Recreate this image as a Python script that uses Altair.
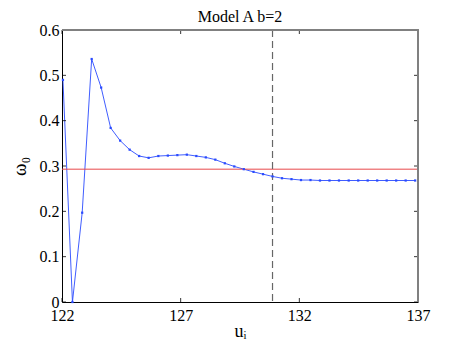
import altair as alt
import pandas as pd

u_vals = [122.04, 122.44, 122.85, 123.25, 123.65, 124.05, 124.45, 124.85, 125.25, 125.65,
          126.06, 126.46, 126.86, 127.26, 127.66, 128.06, 128.46, 128.86, 129.26, 129.66,
          130.07, 130.47, 130.87, 131.27, 131.67, 132.07, 132.47, 132.87, 133.27, 133.67,
          134.08, 134.48, 134.88, 135.28, 135.68, 136.08, 136.48, 136.88]
omega_vals = [0.490, 0.000, 0.197, 0.536, 0.473, 0.384, 0.356, 0.336, 0.322, 0.318,
              0.322, 0.323, 0.324, 0.325, 0.322, 0.319, 0.314, 0.306, 0.299, 0.293,
              0.287, 0.282, 0.277, 0.273, 0.271, 0.269, 0.269, 0.268, 0.268, 0.268,
              0.268, 0.268, 0.268, 0.268, 0.268, 0.268, 0.268, 0.268]
ref_level = [0.293]
vline_u = [130.87]
x_ticks = [122, 127, 132, 137]
y_ticks = [0, 0.1, 0.2, 0.3, 0.4, 0.5, 0.6]
title_text = ["Model A b=2"]

W, H = 356, 272
FONT = "Liberation Serif, Times New Roman, serif"
TL = 4

df = pd.DataFrame({"u": u_vals, "w": omega_vals})
xs = alt.Scale(domain=[122, 137], nice=False, zero=False)
ys = alt.Scale(domain=[0, 0.6], nice=False)

base_x = alt.X("u:Q", scale=xs, axis=alt.Axis(values=x_ticks, title="uᵢ", ticks=False,
               grid=False, domainColor="black", domainWidth=1, labelFont=FONT, labelFontSize=16,
               labelColor="black", labelPadding=5, labelFlush=False, titleFont=FONT, titleFontSize=18,
               titleFontWeight="normal", titleColor="black", titlePadding=-1, format="d"))
base_y = alt.Y("w:Q", scale=ys, axis=alt.Axis(values=y_ticks, title="ω₀", ticks=False,
               grid=False, domainColor="black", domainWidth=1, labelFont=FONT, labelFontSize=16,
               labelColor="black", labelPadding=3, labelFlush=False, titleFont=FONT, titleFontSize=19,
               titleFontWeight="normal", titleColor="black", titlePadding=10, format=".1f",
               labelExpr="datum.value == 0 ? '0' : datum.label"))

line = alt.Chart(df).mark_line(color="#2a4bff", strokeWidth=0.9).encode(x=base_x, y=base_y)
pts = alt.Chart(df).mark_point(shape="square", filled=True, size=5, color="#2a4bff", opacity=1).encode(
    x=alt.X("u:Q", scale=xs), y=alt.Y("w:Q", scale=ys))

href = alt.Chart(pd.DataFrame({"w": ref_level})).mark_rule(color="#e8484a", strokeWidth=1).encode(
    y=alt.Y("w:Q", scale=ys))
vref = alt.Chart(pd.DataFrame({"u": vline_u})).mark_rule(color="#666666", strokeWidth=1.2,
                                                          strokeDash=[7, 4]).encode(
    x=alt.X("u:Q", scale=xs))

xt = pd.DataFrame({"u": x_ticks})
yt = pd.DataFrame({"w": y_ticks})
tick_style = dict(color="black", strokeWidth=0.8)
xb = alt.Chart(xt).mark_rule(**tick_style).encode(x=alt.X("u:Q", scale=xs), y=alt.value(H), y2=alt.value(H - TL))
xtp = alt.Chart(xt).mark_rule(**tick_style).encode(x=alt.X("u:Q", scale=xs), y=alt.value(0), y2=alt.value(TL))
yl = alt.Chart(yt).mark_rule(**tick_style).encode(y=alt.Y("w:Q", scale=ys), x=alt.value(0), x2=alt.value(TL))
yr = alt.Chart(yt).mark_rule(**tick_style).encode(y=alt.Y("w:Q", scale=ys), x=alt.value(W), x2=alt.value(W - TL))

top = alt.Chart(yt).mark_rule(color="#808080", strokeWidth=1.6).encode(
    x=alt.value(0), x2=alt.value(W + 0.5), y=alt.value(0))
right = alt.Chart(yt).mark_rule(color="#808080", strokeWidth=1.6).encode(
    x=alt.value(W), y=alt.value(0), y2=alt.value(H))

ttl = alt.Chart(pd.DataFrame({"t": title_text})).mark_text(
    font=FONT, fontSize=16, color="black", align="center", baseline="middle").encode(
    text="t:N", x=alt.value(W / 2), y=alt.value(-13))

chart = alt.layer(line, href, vref, pts, xb, xtp, yl, yr, top, right, ttl).properties(
    width=W, height=H,
    autosize=alt.AutoSizeParams(type="none"),
    padding={"left": 54, "top": 22, "right": 37, "bottom": 39},
).configure_view(stroke=None).configure(background="white").configure_axis(
    labelFont=FONT, titleFont=FONT)

chart.save("out.html", embed_options={"renderer": "svg", "actions": False})
